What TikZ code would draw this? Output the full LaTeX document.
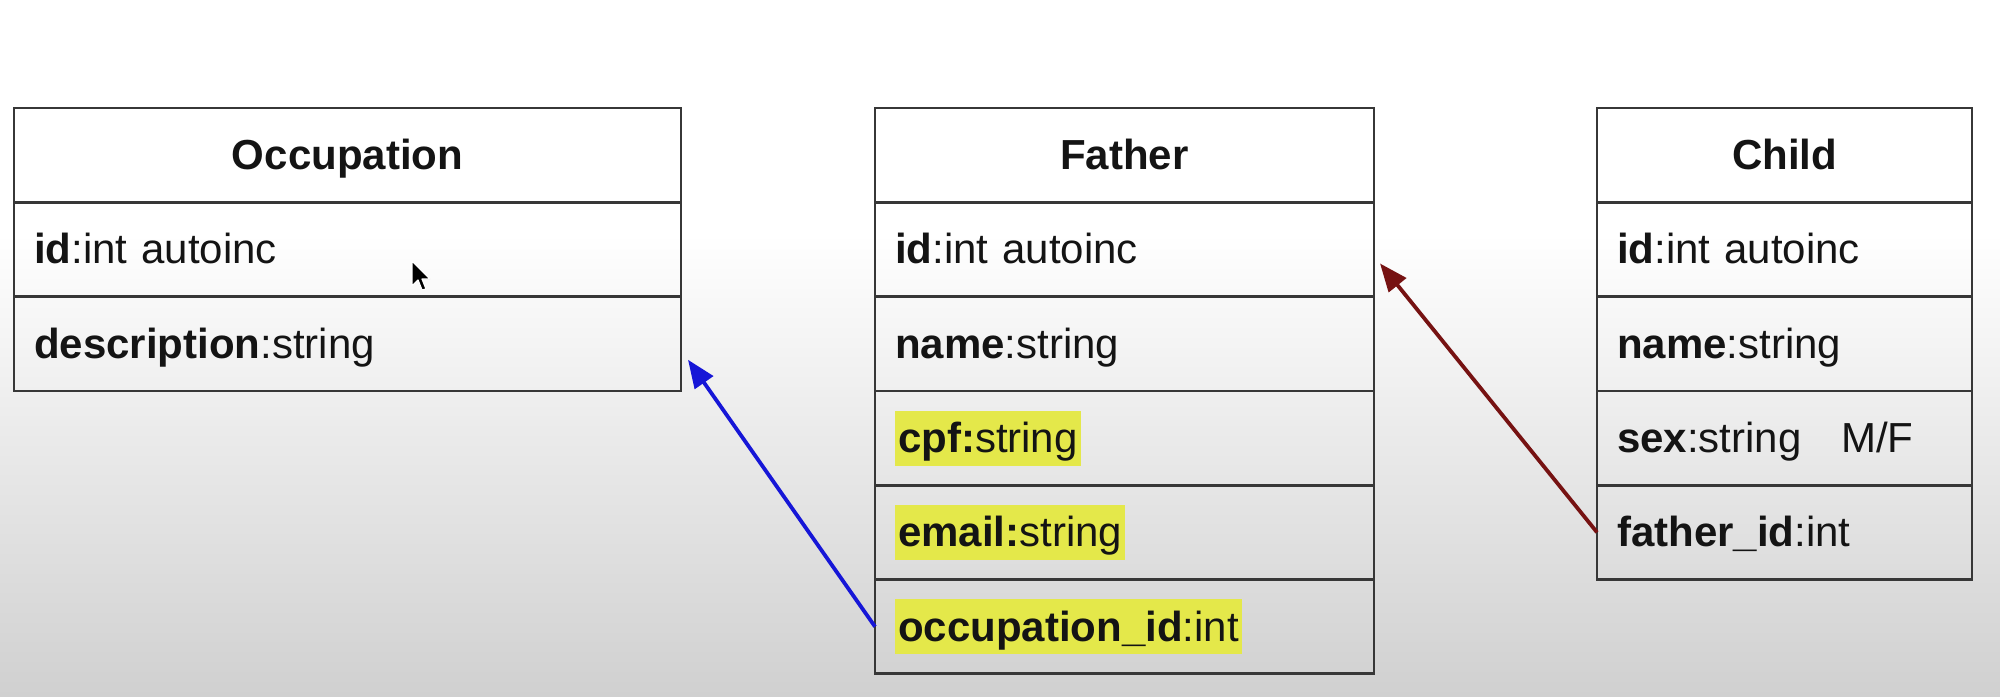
\documentclass[tikz,border=0pt]{standalone}
\usepackage{fontspec}
\setmainfont{Liberation Sans}
\usetikzlibrary{arrows.meta,positioning}
\definecolor{hl}{RGB}{228,232,74}
\definecolor{fkblue}{RGB}{22,22,215}
\definecolor{fkred}{RGB}{118,18,18}
\definecolor{bord}{RGB}{55,55,55}
\definecolor{bggray}{RGB}{208,208,208}
\newcommand{\rstrut}{\rule[-6.5pt]{0pt}{27.5pt}}
\newcommand{\hlt}[1]{{\setlength{\fboxsep}{0pt}\colorbox{hl}{\hspace{1.5pt}\rstrut#1\hspace{1.5pt}}}}
\tikzset{
  row/.style={draw=bord, line width=1.4pt, rectangle, anchor=north west,
    minimum height=47.15pt, inner xsep=10pt, inner ysep=0pt, outer sep=0pt,
    align=left, font=\fontsize{21}{25}\selectfont, text=black!92},
  hdr/.style={row, align=center, font=\fontsize{21}{25}\selectfont\bfseries},
  occw/.style={text width=313.5pt},
  faw/.style={text width=229.5pt},
  chw/.style={text width=167.5pt},
  fk/.style={line width=1.9pt, -{Triangle[length=14pt,width=11pt]}},
}
\begin{document}
\begin{tikzpicture}[x=0.5pt,y=-0.5pt]
\useasboundingbox (0,0) rectangle (2000,696);
\fill[white] (0,0) rectangle (2000,235);
\shade[top color=white, bottom color=bggray] (0,234) rectangle (2000,696);

% Occupation
\node[hdr,occw] (occ-h) at (14,108) {\rstrut Occupation};
\node[row,occw,below=0pt of occ-h] (occ-1) {\rstrut\textbf{id}:int autoinc};
\node[row,occw,below=0pt of occ-1] (occ-2) {\rstrut\textbf{description}:string};

% Father
\node[hdr,faw] (fa-h) at (875,108) {\rstrut Father};
\node[row,faw,below=0pt of fa-h] (fa-1) {\rstrut\textbf{id}:int autoinc};
\node[row,faw,below=0pt of fa-1] (fa-2) {\rstrut\textbf{name}:string};
\node[row,faw,below=0pt of fa-2] (fa-3) {\hlt{\textbf{cpf:}string}};
\node[row,faw,below=0pt of fa-3] (fa-4) {\hlt{\textbf{email:}string}};
\node[row,faw,below=0pt of fa-4] (fa-5) {\hlt{\textbf{occupation\_id}:int}};

% Child
\node[hdr,chw] (ch-h) at (1597,108) {\rstrut Child};
\node[row,chw,below=0pt of ch-h] (ch-1) {\rstrut\textbf{id}:int autoinc};
\node[row,chw,below=0pt of ch-1] (ch-2) {\rstrut\textbf{name}:string};
\node[row,chw,below=0pt of ch-2] (ch-3) {\rstrut\textbf{sex}:string\hspace{0.95em}M/F};
\node[row,chw,below=0pt of ch-3] (ch-4) {\rstrut\textbf{father\_id}:int};

% connectors
\coordinate (occtip) at ([xshift=3.5pt,yshift=-8pt]occ-2.east);
\coordinate (fatip) at ([xshift=3pt,yshift=-7pt]fa-1.east);
\draw[fk, draw=fkblue, fill=fkblue] (fa-5.west) -- (occtip);
\draw[fk, draw=fkred, fill=fkred] (ch-4.west) -- (fatip);

% mouse cursor
\filldraw[black, draw=white, line width=0.6pt, line join=round]
  (412,261) -- (412,286) -- (418,280) -- (422,290) -- (426,289) -- (422,279) -- (430,279) -- cycle;
\end{tikzpicture}
\end{document}
